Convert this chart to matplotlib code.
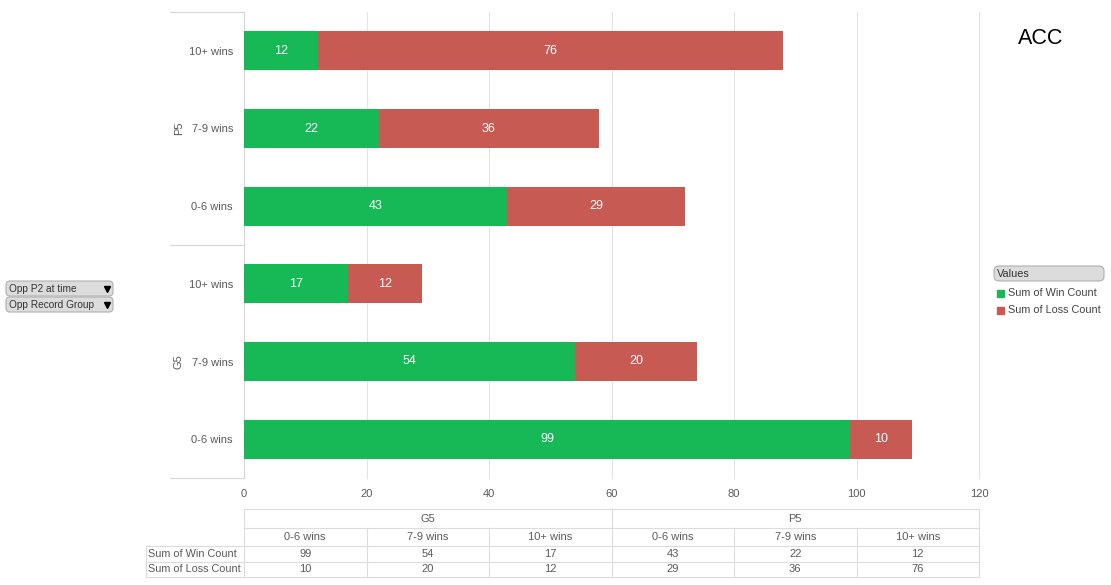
import matplotlib
matplotlib.use('Agg')
import matplotlib.pyplot as plt
from matplotlib.patches import FancyBboxPatch, Rectangle

plt.rcParams['font.family'] = ['Liberation Sans', 'DejaVu Sans']

GROUPS = ['G5', 'P5']
RECORDS = ['0-6 wins', '7-9 wins', '10+ wins']
WIN_COUNT = [99, 54, 17, 43, 22, 12]
LOSS_COUNT = [10, 20, 12, 29, 36, 76]
SERIES = ['Sum of Win Count', 'Sum of Loss Count']
FILTERS = ['Opp P2 at time', 'Opp Record Group']
TITLE = 'ACC'

GREEN = '#16b955'
RED = '#c85a54'
GRID = '#e4e4e4'
TXT = '#5a5a5a'
W, H = 1111, 585

fig = plt.figure(figsize=(W / 100, H / 100), dpi=100)

# overlay in pixel coords for the table, legend and buttons
ov = fig.add_axes([0, 0, 1, 1])
ov.set_xlim(0, W)
ov.set_ylim(H, 0)
ov.axis('off')

x0, x1, y0, y1 = 244, 979, 12, 478
ax = fig.add_axes([x0 / W, 1 - y1 / H, (x1 - x0) / W, (y1 - y0) / H])

n = len(WIN_COUNT)
pos = list(range(n))
ax.barh(pos, WIN_COUNT, height=0.5, color=GREEN, zorder=3)
ax.barh(pos, LOSS_COUNT, left=WIN_COUNT, height=0.5, color=RED, zorder=3)
for p, w, l in zip(pos, WIN_COUNT, LOSS_COUNT):
    ax.text(w / 2, p, str(w), ha='center', va='center', color='white', fontsize=9, zorder=4)
    ax.text(w + l / 2, p, str(l), ha='center', va='center', color='white', fontsize=9, zorder=4)

ax.set_xlim(0, 120)
ax.set_ylim(-0.5, n - 0.5)
ax.set_xticks(range(0, 121, 20))
ax.set_yticks(pos)
ax.set_yticklabels(RECORDS * len(GROUPS))
ax.tick_params(length=0, labelsize=8, labelcolor=TXT)
ax.tick_params(axis='y', pad=8)
ax.tick_params(axis='x', pad=8)
for xv in range(20, 121, 20):
    ax.axvline(xv, color=GRID, linewidth=0.8, zorder=0, clip_on=False)
for s in ['top', 'right', 'bottom']:
    ax.spines[s].set_visible(False)
ax.spines['left'].set_color('#d6d6d6')

# group axis lines and labels
gx = (170 - x0) / (x1 - x0)
for yy in [-0.5, 2.5, n - 0.5]:
    ax.plot([gx, 0], [yy, yy], transform=ax.get_yaxis_transform(), color='#d6d6d6',
            linewidth=0.8, clip_on=False)
for i, g in enumerate(GROUPS):
    ax.text(gx + 0.012, i * 3 + 1, g, transform=ax.get_yaxis_transform(), rotation=90,
            ha='center', va='center', fontsize=8, color=TXT)

# title
ov.text(1041, 39, TITLE, ha='center', va='center', fontsize=15.5, color='black')

# legend
ov.add_patch(FancyBboxPatch((994, 266), 110, 15, boxstyle='round,pad=0,rounding_size=5',
                            facecolor='#dcdcdc', edgecolor='#b0b0b0', linewidth=0.8))
ov.text(997, 274, 'Values', ha='left', va='center', fontsize=7.8, color='#333333')
for i, (name, c) in enumerate(zip(SERIES, [GREEN, RED])):
    yy = 293 + 17 * i
    ov.add_patch(Rectangle((997, yy - 3.5), 7, 7, color=c))
    ov.text(1008, yy, name, ha='left', va='center', fontsize=7.8, color='#444444')

# filter buttons
for i, name in enumerate(FILTERS):
    yy = 281 + 16 * i
    ov.add_patch(FancyBboxPatch((6, yy), 107, 15, boxstyle='round,pad=0,rounding_size=4',
                                facecolor='#dcdcdc', edgecolor='#b0b0b0', linewidth=0.8))
    ov.text(9, yy + 7.5, name, ha='left', va='center', fontsize=7.3, color='#333333')
    ov.plot(107, yy + 7.5, marker='v', color='black', markersize=4.2)

# data table
cw = (x1 - x0) / n
rows = [509, 528, 546, 562, 577]
lc = '#dcdcdc'
ov.plot([x0, x1], [rows[0], rows[0]], color=lc, lw=0.8)
ov.plot([x0, x1], [rows[1], rows[1]], color=lc, lw=0.8)
ov.plot([146, x1], [rows[2], rows[2]], color=lc, lw=0.8)
ov.plot([146, x1], [rows[3], rows[3]], color=lc, lw=0.8)
ov.plot([146, x1], [rows[4], rows[4]], color=lc, lw=0.8)
ov.plot([146, 146], [rows[2], rows[4]], color=lc, lw=0.8)
for k in range(n + 1):
    xx = x0 + k * cw
    top = rows[0] if k % 3 == 0 else rows[1]
    ov.plot([xx, xx], [top, rows[4]], color=lc, lw=0.8)
for gi, g in enumerate(GROUPS):
    ov.text(x0 + (gi * 3 + 1.5) * cw, (rows[0] + rows[1]) / 2, g, ha='center', va='center',
            fontsize=8, color=TXT)
for k in range(n):
    cx = x0 + (k + 0.5) * cw
    ov.text(cx, (rows[1] + rows[2]) / 2, RECORDS[k % 3], ha='center', va='center',
            fontsize=8, color=TXT)
    ov.text(cx, (rows[2] + rows[3]) / 2, str(WIN_COUNT[k]), ha='center', va='center',
            fontsize=8, color=TXT)
    ov.text(cx, (rows[3] + rows[4]) / 2, str(LOSS_COUNT[k]), ha='center', va='center',
            fontsize=8, color=TXT)
for i, name in enumerate(SERIES):
    ov.text(148, (rows[2 + i] + rows[3 + i]) / 2, name, ha='left', va='center',
            fontsize=7.8, color=TXT)

fig.savefig('out.png', dpi=100)
